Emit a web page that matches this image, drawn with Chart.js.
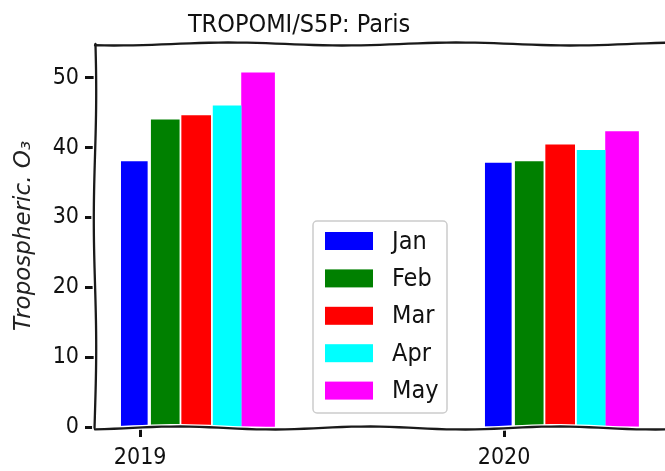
<!doctype html>
<html lang="en">
<head>
<meta charset="utf-8">
<title>TROPOMI/S5P: Paris</title>
<script src="https://cdn.jsdelivr.net/npm/chart.js@4.4.0/dist/chart.umd.min.js"></script>
<style>
    body { margin: 0; background: #fff; }
    #wrap { width: 665px; height: 471px; position: relative; }
</style>
</head>
<body>
<div id="wrap"><canvas id="myChart"></canvas></div>
<script>
// data
const years = [2019, 2020];
const months = ['Jan', 'Feb', 'Mar', 'Apr', 'May'];
const jan = [38.0, 37.8];
const feb = [44.0, 38.0];
const mar = [44.6, 40.4];
const apr = [46.0, 39.6];
const may = [50.7, 42.3];
const yTicks = [0, 10, 20, 30, 40, 50];

const colors = ['#0000ff', '#008000', '#ff0000', '#00ffff', '#ff00ff'];
const FONT = '"Liberation Sans Narrow", "DejaVu Sans Condensed", "Open Sans", sans-serif';
const INK = '#111';

// dodge: bars sit next to each other starting at the year tick
const firstOffset = -0.016, barStep = 0.085;
const thick = [26, 28, 29, 28, 33];

const monthValues = [jan, feb, mar, apr, may];
const datasets = months.map((m, i) => ({
    label: m,
    data: years.map((yr, j) => ({ x: yr + firstOffset + i * barStep, y: monthValues[i][j] })),
    backgroundColor: colors[i],
    barThickness: thick[i],
    grouped: false,
    borderWidth: 0
}));

// slightly wavy line, xkcd-ish
let wobbly = (ctx, x1, y1, x2, y2, amp, waves, phase) => {
    const n = 60;
    ctx.beginPath();
    for (let k = 0; k <= n; k++) {
        const t = k / n;
        const d = amp * Math.sin(t * waves * Math.PI * 2 + phase);
        const x = x1 + (x2 - x1) * t + (x1 === x2 ? d : 0);
        const y = y1 + (y2 - y1) * t + (y1 === y2 ? d : 0);
        if (k === 0) ctx.moveTo(x, y); else ctx.lineTo(x, y);
    }
    ctx.stroke();
};

const spines = {
    id: 'spines',
    afterLayout(chart) {
        // title in the reference is centred left of the canvas middle
        chart.titleBlock.right = 598 - chart.titleBlock.left;
    },
    afterDatasetsDraw(chart) {
        const { ctx, chartArea: a } = chart;
        ctx.save();
        ctx.lineCap = 'round';
        [['#ffffff', 5], ['#1a1a1a', 2.3]].forEach(([c, w]) => {
            ctx.strokeStyle = c;
            ctx.lineWidth = w;
            wobbly(ctx, a.left, a.top - 1, a.left, a.bottom + 1, 1.2, 1.5, 0.4);
            wobbly(ctx, a.left, a.top - 1, a.right, a.top - 1, 1.5, 2.5, 1.0);
            wobbly(ctx, a.left, a.bottom + 1, a.right, a.bottom + 1, 1.5, 3, 2.0);
        });
        ctx.restore();
    }
};

const boxLegend = {
    id: 'boxLegend',
    afterDraw(chart) {
        const { ctx, chartArea: a } = chart;
        const w = 134, h = 192;
        const left = (a.left + a.right) / 2 - w / 2;
        const top = a.bottom - 14 - h;
        ctx.save();
        ctx.fillStyle = 'rgba(255,255,255,0.9)';
        ctx.strokeStyle = '#cccccc';
        ctx.lineWidth = 1.5;
        ctx.beginPath();
        ctx.roundRect(left, top, w, h, 4);
        ctx.fill();
        ctx.stroke();
        ctx.font = '25px ' + FONT;
        ctx.textBaseline = 'middle';
        chart.data.datasets.forEach((ds, i) => {
            const cy = top + 20 + i * 37.4;
            ctx.fillStyle = ds.backgroundColor;
            ctx.fillRect(left + 12, cy - 9, 48, 18);
            ctx.fillStyle = INK;
            ctx.fillText(ds.label, left + 79, cy + 1);
        });
        ctx.restore();
    }
};

new Chart(document.getElementById('myChart'), {
    type: 'bar',
    data: { datasets: datasets },
    plugins: [spines, boxLegend],
    options: {
        responsive: true,
        maintainAspectRatio: false,
        animation: false,
        layout: { padding: 0 },
        plugins: {
            legend: { display: false },
            tooltip: { enabled: false },
            title: {
                display: true,
                text: 'TROPOMI/S5P: Paris',
                color: INK,
                font: { family: FONT, size: 25, weight: 'normal', lineHeight: 1.2 },
                padding: { top: 10, bottom: 5 }
            }
        },
        scales: {
            x: {
                type: 'linear',
                min: 2018.876,
                max: 2020.442,
                offset: false,
                afterBuildTicks: s => { s.ticks = years.map(v => ({ value: v })); },
                afterFit: s => { s.height = 44; },
                grid: { offset: false, drawOnChartArea: false, tickLength: 10, tickWidth: 3, tickColor: INK },
                border: { display: false },
                ticks: {
                    color: INK, padding: 7, maxRotation: 0,
                    font: { family: FONT, size: 23 },
                    callback: v => String(v)
                }
            },
            y: {
                min: 0,
                max: 54.7,
                afterBuildTicks: s => { s.ticks = yTicks.map(v => ({ value: v })); },
                afterFit: s => { s.width = 95; },
                grid: { drawOnChartArea: false, tickLength: 10, tickWidth: 3, tickColor: INK },
                border: { display: false },
                ticks: { color: INK, padding: 6, font: { family: FONT, size: 23 } },
                title: {
                    display: true,
                    text: 'Tropospheric. O₃',
                    color: '#222',
                    font: { family: 'DejaVu Sans', style: 'italic', size: 23 },
                    padding: { top: 10, bottom: 0 }
                }
            }
        }
    }
});
</script>
</body>
</html>
